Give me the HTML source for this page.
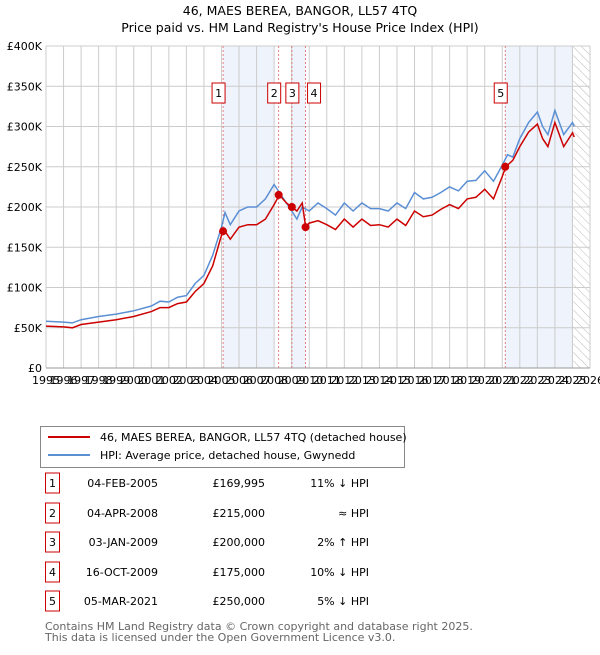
<!DOCTYPE html>
<html><head><meta charset="utf-8"><style>
body{margin:0;background:#fff;font-family:"Liberation Sans","DejaVu Sans",sans-serif;}
svg text{font-family:"DejaVu Sans","Liberation Sans",sans-serif;}
</style></head><body>
<svg id="c" width="600" height="650" viewBox="0 0 600 650" xmlns="http://www.w3.org/2000/svg">
<text x="300" y="15" text-anchor="middle" font-size="12.5">46, MAES BEREA, BANGOR, LL57 4TQ</text>
<text x="300" y="32" text-anchor="middle" font-size="12.5">Price paid vs. HM Land Registry's House Price Index (HPI)</text>
<g id="plot"></g>
<g>
<rect x="40.5" y="426.5" width="364" height="41" fill="#fff" stroke="#888"/>
<line x1="48" y1="437" x2="90" y2="437" stroke="#cc0000" stroke-width="2"/>
<text x="100" y="441" font-size="11">46, MAES BEREA, BANGOR, LL57 4TQ (detached house)</text>
<line x1="48" y1="455" x2="90" y2="455" stroke="#5b8fd4" stroke-width="2"/>
<text x="100" y="459" font-size="11">HPI: Average price, detached house, Gwynedd</text>
</g>
<g id="table" font-size="11"></g>
<text x="45" y="630" font-size="11" fill="#666">Contains HM Land Registry data © Crown copyright and database right 2025.</text>
<text x="45" y="641" font-size="11" fill="#666">This data is licensed under the Open Government Licence v3.0.</text>
</svg>
<script>
const hpiDates=[1995,1996,1996.5,1997,1998,1999,2000,2001,2001.5,2002,2002.5,2003,2003.5,2004,2004.5,2005,2005.2,2005.5,2006,2006.5,2007,2007.5,2008,2008.3,2008.7,2009,2009.3,2009.6,2010,2010.5,2011,2011.5,2012,2012.5,2013,2013.5,2014,2014.5,2015,2015.5,2016,2016.5,2017,2017.5,2018,2018.5,2019,2019.5,2020,2020.5,2021,2021.3,2021.6,2022,2022.5,2023,2023.3,2023.6,2024,2024.5,2025,2025.1];
const hpiValues=[58,57,56,60,64,67,71,77,83,82,88,90,105,115,140,175,193,178,195,200,200,210,228,218,205,195,185,200,195,205,198,190,205,195,205,198,198,195,205,198,218,210,212,218,225,220,232,233,245,232,252,265,262,285,305,318,300,290,320,290,305,300];
const propDates=[1995,1996,1996.5,1997,1998,1999,2000,2001,2001.5,2002,2002.5,2003,2003.5,2004,2004.5,2005,2005.2,2005.5,2006,2006.5,2007,2007.5,2008,2008.3,2008.7,2009,2009.3,2009.6,2009.8,2010,2010.5,2011,2011.5,2012,2012.5,2013,2013.5,2014,2014.5,2015,2015.5,2016,2016.5,2017,2017.5,2018,2018.5,2019,2019.5,2020,2020.5,2021,2021.2,2021.6,2022,2022.5,2023,2023.3,2023.6,2024,2024.5,2025,2025.1];
const propValues=[52,51,50,54,57,60,64,70,75,75,80,82,95,105,127,165,170,160,175,178,178,185,203,215,205,200,195,205,175,180,183,178,172,185,175,185,177,178,175,185,177,195,188,190,197,203,198,210,212,222,210,238,250,258,275,293,303,285,275,305,275,292,287];
const saleDates=[2005.09,2008.26,2009.01,2009.79,2021.17];
const saleValues=[169.995,215,200,175,250];
const saleLabels=["1","2","3","4","5"];
const saleDateText=["04-FEB-2005","04-APR-2008","03-JAN-2009","16-OCT-2009","05-MAR-2021"];
const salePriceText=["£169,995","£215,000","£200,000","£175,000","£250,000"];
const saleHpiText=["11% ↓ HPI","≈ HPI","2% ↑ HPI","10% ↓ HPI","5% ↓ HPI"];
const yTicks=[0,50,100,150,200,250,300,350,400];
const yTickLabels=["£0","£50K","£100K","£150K","£200K","£250K","£300K","£350K","£400K"];
const xYears=[1995,1996,1997,1998,1999,2000,2001,2002,2003,2004,2005,2006,2007,2008,2009,2010,2011,2012,2013,2014,2015,2016,2017,2018,2019,2020,2021,2022,2023,2024,2025,2026];
const shadeRanges=[[2005.09,2008.0],[2009.01,2009.79],[2021.17,2025.0]];

const L=46,R=590,T=46,B=368,NS="http://www.w3.org/2000/svg";
const xs=v=>L+(v-1995)/(2026-1995)*(R-L);
const ys=v=>B-v/400*(B-T);
const g=document.getElementById('plot');
function mk(tag,attrs,parent){const e=document.createElementNS(NS,tag);for(const k in attrs)e.setAttribute(k,attrs[k]);(parent||g).appendChild(e);return e;}
shadeRanges.forEach(r=>{const e=mk('rect',{x:xs(r[0]),y:T,width:xs(r[1])-xs(r[0]),height:B-T,fill:'#eef3fc'});

});
const defs=mk('defs',{});
const pat=mk('pattern',{id:'hatch',width:6,height:6,patternUnits:'userSpaceOnUse',patternTransform:'rotate(-45)'},defs);
mk('line',{x1:0,y1:0,x2:0,y2:6,stroke:'#bbb','stroke-width':1},pat);
const h=mk('rect',{x:xs(2025.05),y:T,width:R-xs(2025.05),height:B-T,fill:'url(#hatch)'});


xYears.forEach((y,i)=>{mk('line',{x1:xs(y),y1:T,x2:xs(y),y2:B,stroke:'#ccc','stroke-width':1});
const t=mk('text',{x:xs(y),y:B+16,'font-size':11,'text-anchor':'middle'});t.textContent=y;

});
yTicks.forEach((v,i)=>{mk('line',{x1:L,y1:ys(v),x2:R,y2:ys(v),stroke:'#ccc','stroke-width':1});
const t=mk('text',{x:L-4,y:ys(v)+4,'font-size':11,'text-anchor':'end'});t.textContent=yTickLabels[i];

});
saleDates.forEach(d=>{const e=mk('line',{x1:xs(d),y1:T,x2:xs(d),y2:B,stroke:'#e06060','stroke-width':0.8,'stroke-dasharray':'2,2'});

});
function path(ds,vs,col,name){const p=mk('path',{d:ds.map((d,i)=>(i?'L':'M')+xs(d).toFixed(1)+','+ys(vs[i]).toFixed(1)).join(''),fill:'none',stroke:col,'stroke-width':1.5});

}
path(hpiDates,hpiValues,'#5b8fd4','hpi-line');
path(propDates,propValues,'#cc0000','property-line');
saleDates.forEach((d,i)=>{const c=mk('circle',{cx:xs(d),cy:ys(saleValues[i]),r:4,fill:'#cc0000'});


const bx=[xs(d)-11,xs(d)-11,xs(d)-6,xs(d)+2,xs(d)-11][i];
const r=mk('rect',{x:bx,y:83,width:13,height:20,fill:'#fff',stroke:'#cc0000'});


const t=mk('text',{x:bx+6.5,y:97,'font-size':11,'text-anchor':'middle'});t.textContent=saleLabels[i];

});
mk('line',{x1:L,y1:B,x2:R,y2:B,stroke:'#999'});
const tb=document.getElementById('table');
const rowY=[486,516,545,575,604];
saleLabels.forEach((l,i)=>{const y=rowY[i];
const r=mk('rect',{x:45.5,y:y-13,width:14,height:20,fill:'#fff',stroke:'#cc0000'},tb);


const cells=[[l,52.5,'middle'],[saleDateText[i],158,'end'],[salePriceText[i],265,'end'],[saleHpiText[i],369,'end']];
cells.forEach(c=>{const t=mk('text',{x:c[1],y:y+1,'text-anchor':c[2]},tb);t.textContent=c[0];

});});
</script>
</body></html>
